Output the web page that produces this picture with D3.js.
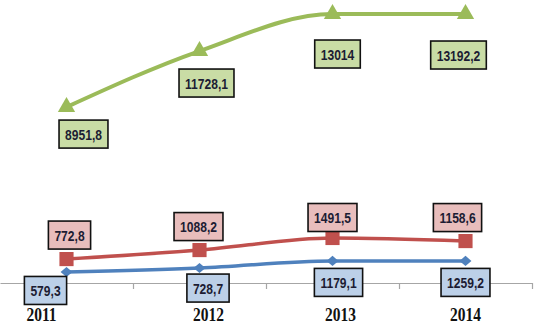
<!DOCTYPE html>
<html>
<head>
<meta charset="utf-8">
<script src="https://cdn.jsdelivr.net/npm/d3@7"></script>
<style>
  html, body { margin: 0; padding: 0; background: #fff; }
  svg { display: block; }
</style>
</head>
<body>
<div id="chart"></div>
<script>
const years = ['2011', '2012', '2013', '2014']

// heights as drawn (the chart shows no value axis, so these are read off the picture)
const greenValues = [8600, 11340, 13150, 13150]
const redValues = [1170, 1610, 2200, 2050]
const blueValues = [540, 730, 1080, 1080]

// numbers printed in the boxes
const greenLabels = ['8951,8', '11728,1', '13014', '13192,2']
const redLabels = ['772,8', '1088,2', '1491,5', '1158,6']
const blueLabels = ['579,3', '728,7', '1179,1', '1259,2']

const width = 550
const height = 325
const axisY = 283

const svg = d3.select('#chart').append('svg').attr('width', width).attr('height', height)

const x = d3.scaleBand().domain(years).range([0, 532])
const cx = (d) => x(d) + x.bandwidth() / 2
const y = d3.scaleLinear().domain([0, 13200]).range([axisY, 13])

// category axis: ticks sit between the categories, like Excel
const slots = d3.scaleLinear().domain([0, years.length]).range([0, 532])
const axisG = svg.append('g').attr('transform', `translate(0,${axisY})`)
  .call(d3.axisBottom(slots).tickValues([1, 2, 3, 4]).tickSize(6).tickSizeOuter(0).tickFormat(''))
axisG.selectAll('path, line').attr('stroke', '#a6a6a6').attr('stroke-width', 1.2)

// year labels were placed by hand in the original
const yearNudge = [-25, 9, 8, 0]
svg.append('g').selectAll('text').data(years).join('text')
  .attr('transform', (d, i) => `translate(${cx(d) + yearNudge[i]},321) scale(1,1.15)`)
  .attr('text-anchor', 'middle')
  .attr('font-family', '"Liberation Serif", "Times New Roman", serif')
  .attr('font-weight', 'bold')
  .attr('font-size', 15.5)
  .attr('fill', '#111')
  .text((d) => d)

const series = [
  {
    key: 'green', values: greenValues, labels: greenLabels, color: '#9bbb59', fill: '#c9dca5', width: 4,
    symbol: d3.symbolTriangle, size: 130, sy: 1,
    shift: [[17, 27], [7, 32], [5, 40], [-7, 41]],
  },
  {
    key: 'red', values: redValues, labels: redLabels, color: '#c0504d', fill: '#e8bdbc', width: 3.5,
    symbol: d3.symbolSquare, size: 200, sy: 1,
    shift: [[3, -24], [-1, -23.5], [0, -20.5], [-8, -23.5]],
  },
  {
    key: 'blue', values: blueValues, labels: blueLabels, color: '#4f81bd', fill: '#bcd0e8', width: 3.5,
    symbol: d3.symbolDiamond2, size: 90, sy: 0.85,
    shift: [[-21, 18.5], [8.5, 20], [6, 21.5], [0, 21.5]],
  },
]

const line = d3.line()
  .x((d) => cx(d.year))
  .y((d) => y(d.value))
  .curve(d3.curveMonotoneX)

const pts = (s) => years.map((year, i) => ({ year, value: s.values[i], label: s.labels[i], shift: s.shift[i] }))

const linesG = svg.append('g')
const markG = svg.append('g')
const labelG = svg.append('g')

const squeeze = 0.78

for (const s of series) {
  const data = pts(s)

  linesG.append('path')
    .attr('fill', 'none')
    .attr('stroke', s.color)
    .attr('stroke-width', s.width)
    .attr('stroke-linejoin', 'round')
    .attr('d', line(data))

  markG.selectAll(`path.${s.key}`).data(data).join('path')
    .attr('class', s.key)
    .attr('fill', s.color)
    .attr('transform', (d) => `translate(${cx(d.year)},${y(d.value)}) scale(1,${s.sy})`)
    .attr('d', d3.symbol(s.symbol, s.size))

  const lab = labelG.selectAll(`g.${s.key}`).data(data).join('g')
    .attr('class', s.key)
    .attr('transform', (d) => `translate(${cx(d.year) + d.shift[0]},${y(d.value) + d.shift[1]})`)

  lab.append('rect')
    .attr('fill', s.fill)
    .attr('stroke', '#111')
    .attr('stroke-width', 1.6)

  const txt = lab.append('text')
    .attr('text-anchor', 'middle')
    .attr('dy', '0.36em')
    .attr('transform', `scale(${squeeze},1)`)
    .attr('font-family', '"Liberation Sans", Arial, sans-serif')
    .attr('font-weight', 'bold')
    .attr('font-size', 15.5)
    .attr('fill', '#1c1c33')
    .text((d) => d.label)

  txt.each(function () {
    const w = this.getComputedTextLength() * squeeze
    d3.select(this.previousSibling)
      .attr('x', -w / 2 - 6)
      .attr('y', -14)
      .attr('width', w + 12)
      .attr('height', 28)
  })
}
</script>
</body>
</html>
